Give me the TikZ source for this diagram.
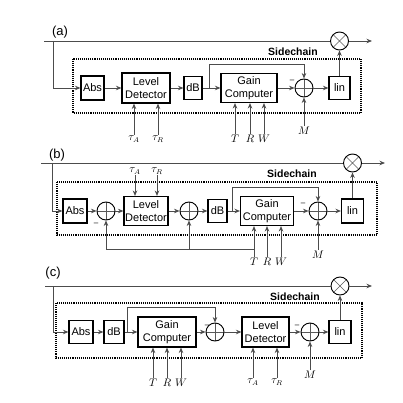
\documentclass[tikz,border=0pt]{standalone}
\usepackage{fontspec}
\setmainfont{Liberation Sans}
\usetikzlibrary{arrows.meta}
\begin{document}
\begin{tikzpicture}[x=1pt,y=-1pt]
      \tikzstyle{bloc}=[draw,line width=1.1pt,inner sep=0pt,align=center,font=\fontsize{11}{12.5}\selectfont]
      \tikzstyle{somme}=[circle,draw,line width=0.9pt,minimum size=18pt,inner sep=0pt,
        path picture={\draw[gray!70!black,line width=0.6pt] (path picture bounding box.north)--(path picture bounding box.south)
          (path picture bounding box.west)--(path picture bounding box.east);}]
      \tikzstyle{produit}=[circle,draw,line width=0.9pt,minimum size=18pt,inner sep=0pt,
        path picture={\draw[gray!70!black,line width=0.6pt] (path picture bounding box.north west)--(path picture bounding box.south east)
          (path picture bounding box.north east)--(path picture bounding box.south west);}]
      \tikzstyle{fil}=[gray!60!black,line width=0.8pt]
      \tikzstyle{arrow}=[fil,-{Stealth[length=5.5pt,width=4.5pt,inset=1.8pt]}]
      \tikzstyle{param}=[inner sep=1pt,font=\fontsize{10.5}{10.5}\selectfont]
      \tikzstyle{moins}=[inner sep=0pt,font=\fontsize{8}{8}\selectfont]
      \tikzstyle{panneau}=[inner sep=0pt,font=\fontsize{13}{13}\selectfont]
      \tikzstyle{titre}=[inner sep=0pt,font=\fontsize{10.5}{10.5}\selectfont\bfseries]
      \tikzstyle{cadre}=[densely dotted,line width=1.1pt]
      \useasboundingbox (0,0) rectangle (402,403);
      % (a)
      \node[panneau] (pa) at (60,32) {(a)};
      \draw[cadre] (73,59) rectangle (361,113);
      \node[titre] (sca) at (293,52) {Sidechain};
      \node[bloc,minimum width=23pt,minimum height=24pt] (aabs) at (92.5,88) {Abs};
      \node[bloc,minimum width=48pt,minimum height=30pt] (ald) at (146,88) {Level\\Detector};
      \node[bloc,minimum width=18pt,minimum height=23pt] (adb) at (193,88) {dB};
      \node[bloc,minimum width=56pt,minimum height=29pt] (agc) at (249,88) {Gain\\Computer};
      \node[somme] (asum) at (304,88) {};
      \node[bloc,minimum width=21pt,minimum height=23pt] (alin) at (339.5,88) {lin};
      \node[produit] (amul) at (339.5,41) {};
      \node[moins] (am) at (292,81) {--};
      \coordinate (ain) at (44,41);
      \coordinate (aout) at (372,41);
      \coordinate (abr) at (53,41);
      \coordinate (ajoin) at (209,88);
      \coordinate (atop) at (209,64);
      \node[param] (atA) at (134,139) {$\tau_A$};
      \node[param] (atR) at (158,139) {$\tau_R$};
      \node[param] (aT) at (235,139) {$T$};
      \node[param] (aR) at (250,139) {$R$};
      \node[param] (aW) at (264,139) {$W$};
      \node[param] (aM) at (304,131) {$M$};
      \draw[fil] (ain)--(amul);
      \draw[arrow] (amul)--(aout);
      \draw[arrow] (abr) |- (aabs);
      \draw[arrow] (aabs)--(ald);
      \draw[arrow] (ald)--(adb);
      \draw[arrow] (adb)--(agc);
      \draw[arrow] (ajoin)--(atop) -| (asum);
      \draw[arrow] (agc)--(asum);
      \draw[arrow] (asum)--(alin);
      \draw[arrow] (alin)--(amul);
      \draw[arrow] (atA)--(atA |- ald.south);
      \draw[arrow] (atR)--(atR |- ald.south);
      \draw[arrow] (aT)--(aT |- agc.south);
      \draw[arrow] (aR)--(aR |- agc.south);
      \draw[arrow] (aW)--(aW |- agc.south);
      \draw[arrow] (aM)--(asum);
      % (b)
      \node[panneau] (pb) at (57,155) {(b)};
      \draw[cadre] (57,182) rectangle (377,235);
      \node[titre] (scb) at (292,174) {Sidechain};
      \node[bloc,minimum width=24pt,minimum height=24pt] (babs) at (75,211) {Abs};
      \node[somme] (bs1) at (106,211) {};
      \node[bloc,minimum width=44pt,minimum height=29pt] (bld) at (146,211) {Level\\Detector};
      \node[somme] (bs2) at (189,211) {};
      \node[bloc,minimum width=19pt,minimum height=23pt] (bdb) at (217.5,211) {dB};
      \node[bloc,minimum width=53pt,minimum height=29pt] (bgc) at (267,211) {Gain\\Computer};
      \node[somme] (bs3) at (318,211) {};
      \node[bloc,minimum width=22pt,minimum height=24pt] (blin) at (352.5,211) {lin};
      \node[produit] (bmul) at (352.5,163) {};
      \node[moins] (bm1) at (96,224) {--};
      \node[moins] (bm3) at (303,204) {--};
      \coordinate (bin) at (41,163);
      \coordinate (bout) at (385,163);
      \coordinate (bbr) at (52,163);
      \coordinate (bjoin) at (232,211);
      \coordinate (btop) at (232,187);
      \coordinate (bfb) at (254,249);
      \node[param] (btA) at (135,171) {$\tau_A$};
      \node[param] (btR) at (157,171) {$\tau_R$};
      \node[param] (bT) at (254,262) {$T$};
      \node[param] (bR) at (267,262) {$R$};
      \node[param] (bW) at (281,262) {$W$};
      \node[param] (bM) at (318,255) {$M$};
      \draw[fil] (bin)--(bmul);
      \draw[arrow] (bmul)--(bout);
      \draw[arrow] (bbr) |- (babs);
      \draw[arrow] (babs)--(bs1);
      \draw[arrow] (bs1)--(bld);
      \draw[arrow] (bld)--(bs2);
      \draw[arrow] (bs2)--(bdb);
      \draw[arrow] (bdb)--(bgc);
      \draw[arrow] (bjoin)--(btop) -| (bs3);
      \draw[arrow] (bgc)--(bs3);
      \draw[arrow] (bs3)--(blin);
      \draw[arrow] (blin)--(bmul);
      \draw[arrow] (btA)--(btA |- bld.north);
      \draw[arrow] (btR)--(btR |- bld.north);
      \draw[arrow] (bT)--(bT |- bgc.south);
      \draw[arrow] (bR)--(bR |- bgc.south);
      \draw[arrow] (bW)--(bW |- bgc.south);
      \draw[arrow] (bM)--(bs3);
      \draw[arrow] (bfb) -| (bs1);
      \draw[arrow] (bs2 |- bfb)--(bs2);
      % (c)
      \node[panneau] (pc) at (53,273) {(c)};
      \draw[cadre] (56,303) rectangle (362,358);
      \node[titre] (scc) at (295,297) {Sidechain};
      \node[bloc,minimum width=24pt,minimum height=23pt] (cabs) at (81,332) {Abs};
      \node[bloc,minimum width=20pt,minimum height=23pt] (cdb) at (114,332) {dB};
      \node[bloc,minimum width=58pt,minimum height=30pt] (cgc) at (167,332) {Gain\\Computer};
      \node[somme] (cs1) at (215,332) {};
      \node[bloc,minimum width=47pt,minimum height=30pt] (cld) at (265.5,332) {Level\\Detector};
      \node[somme] (cs2) at (310,332) {};
      \node[bloc,minimum width=22pt,minimum height=23pt] (clin) at (340,332) {lin};
      \node[produit] (cmul) at (340,286) {};
      \node[moins] (cm1) at (207,326) {--};
      \node[moins] (cm2) at (297,326) {--};
      \coordinate (cin) at (45,286);
      \coordinate (cout) at (372,286);
      \coordinate (cbr) at (53,286);
      \coordinate (cjoin) at (127,332);
      \coordinate (ctop) at (127,307);
      \node[param] (cT) at (153,383) {$T$};
      \node[param] (cR) at (167,383) {$R$};
      \node[param] (cW) at (181,383) {$W$};
      \node[param] (ctA) at (253,382) {$\tau_A$};
      \node[param] (ctR) at (277,382) {$\tau_R$};
      \node[param] (cM) at (310,375) {$M$};
      \draw[fil] (cin)--(cmul);
      \draw[arrow] (cmul)--(cout);
      \draw[arrow] (cbr) |- (cabs);
      \draw[arrow] (cabs)--(cdb);
      \draw[arrow] (cdb)--(cgc);
      \draw[arrow] (cjoin)--(ctop) -| (cs1);
      \draw[arrow] (cgc)--(cs1);
      \draw[arrow] (cs1)--(cld);
      \draw[arrow] (cld)--(cs2);
      \draw[arrow] (cs2)--(clin);
      \draw[arrow] (clin)--(cmul);
      \draw[arrow] (cT)--(cT |- cgc.south);
      \draw[arrow] (cR)--(cR |- cgc.south);
      \draw[arrow] (cW)--(cW |- cgc.south);
      \draw[arrow] (ctA)--(ctA |- cld.south);
      \draw[arrow] (ctR)--(ctR |- cld.south);
      \draw[arrow] (cM)--(cs2);
    \end{tikzpicture}
\end{document}
